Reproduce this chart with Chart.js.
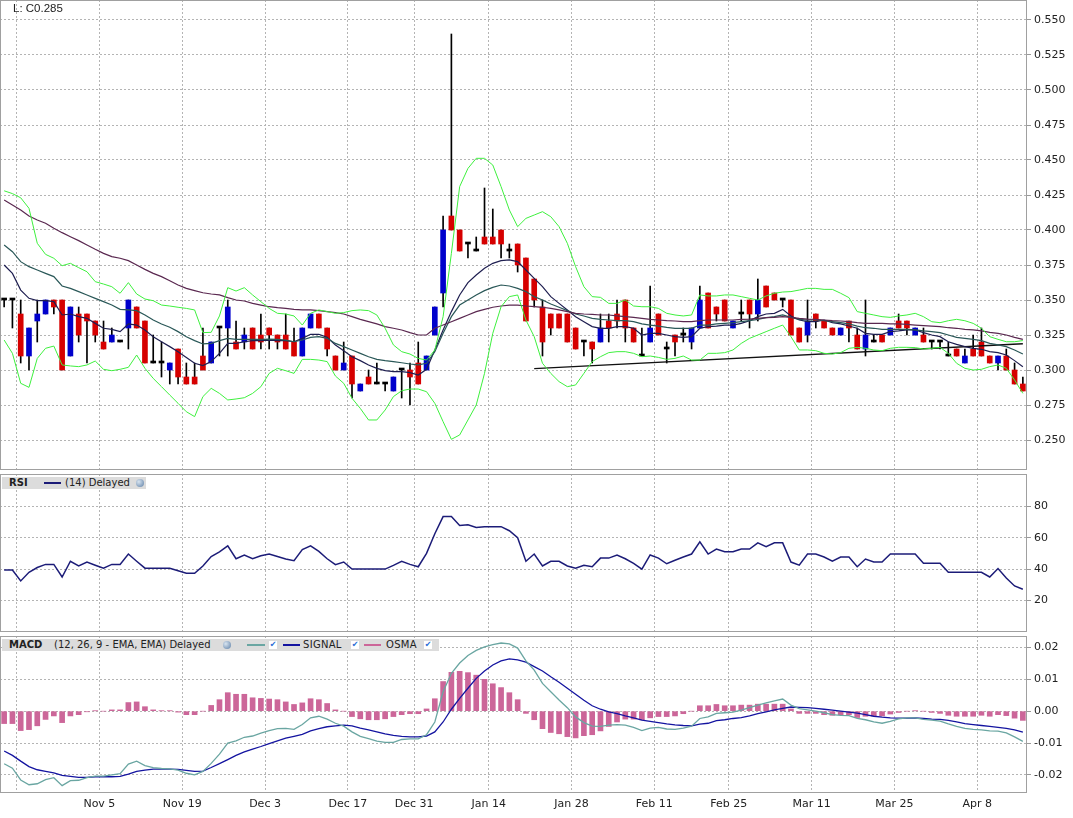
<!DOCTYPE html>
<html>
<head>
<meta charset="utf-8">
<script src="https://cdn.jsdelivr.net/npm/chart.js@4.4.1/dist/chart.umd.min.js"></script>
<style>
  body { margin: 0; background: #fff; }
  #wrap { position: relative; width: 1073px; height: 818px; overflow: hidden; font-family: 'DejaVu Sans', sans-serif; color: #222; }
  canvas { position: absolute; left: 0; }
  #last { position: absolute; left: 13px; top: 2px; font: 11.5px 'Liberation Sans', Arial, sans-serif; color: #222; }
  .legend { position: absolute; left: 2px; height: 12px; background: #dcdcdc; font-size: 10px; line-height: 12px; }
  .legend span { position: absolute; top: 0; white-space: nowrap; }
  .legend .ln { top: 5px; height: 2px; }
  .legend .ico { top: 2px; width: 8px; height: 8px; border-radius: 50%; background: radial-gradient(circle at 35% 35%, #d8e4f0, #5d7fa6); }
  .legend .chk { top: 2px; width: 8px; height: 8px; background: #fff; color: #2a6bd6; font-size: 8px; line-height: 8px; text-align: center; }
</style>
</head>
<body>
<div id="wrap">
  <canvas id="priceChart" width="1073" height="470" style="top:0"></canvas>
  <canvas id="rsiChart" width="1073" height="158" style="top:474px"></canvas>
  <canvas id="macdChart" width="1073" height="182" style="top:636px"></canvas>
  <div id="last">L: C0.285</div>
  <div class="legend" style="top:477px;width:144px">
    <span style="left:7px;font-weight:bold">RSI</span>
    <span class="ln" style="left:42px;width:17px;background:#1c1c78"></span>
    <span style="left:63px">(14) Delayed</span>
    <span class="ico" style="left:134px"></span>
  </div>
  <div class="legend" style="top:639px;width:437px">
    <span style="left:7px;font-weight:bold">MACD</span>
    <span style="left:52px">(12, 26, 9 - EMA, EMA) Delayed</span>
    <span class="ico" style="left:221px"></span>
    <span class="ln" style="left:245px;width:18px;background:#6aa6a2"></span>
    <span class="chk" style="left:267px">✔</span>
    <span class="ln" style="left:281px;width:17px;background:#1414a0"></span>
    <span style="left:301px;letter-spacing:0.3px">SIGNAL</span>
    <span class="chk" style="left:349px">✔</span>
    <span class="ln" style="left:362px;width:17px;background:#cc6699"></span>
    <span style="left:384px;letter-spacing:0.3px">OSMA</span>
    <span class="chk" style="left:422px">✔</span>
  </div>
</div>
<script>
// ---- data ----
const categories = Array.from({ length: 124 }, (_, i) => String(i));

const tickIdx  = [2, 12, 22, 32, 42, 50, 59, 69, 79, 88, 98, 108, 118];
const tickText = ['', 'Nov 5', 'Nov 19', 'Dec 3', 'Dec 17', 'Dec 31', 'Jan 14', 'Jan 28', 'Feb 11', 'Feb 25', 'Mar 11', 'Mar 25', 'Apr 8'];

const priceTicks = [0.250, 0.275, 0.300, 0.325, 0.350, 0.375, 0.400, 0.425, 0.450, 0.475, 0.500, 0.525, 0.550];
const rsiTicks = [20, 40, 60, 80];
const macdTicks = [-0.02, -0.01, 0, 0.01, 0.02];

const open = [
  0.350, 0.350, 0.340, 0.310, 0.335, 0.340, 0.350, 0.350, 0.310, 0.340, 0.340, 0.335, 0.320, 0.320, 0.320, 0.330,
  0.345, 0.335, 0.305, 0.305, 0.300, 0.315, 0.295, 0.295, 0.310, 0.305, 0.330, 0.330, 0.320, 0.320, 0.330, 0.325,
  0.330, 0.325, 0.325, 0.320, 0.310, 0.330, 0.340, 0.330, 0.310, 0.300, 0.310, 0.285, 0.295, 0.290, 0.290, 0.285,
  0.300, 0.300, 0.305, 0.300, 0.325, 0.355, 0.410, 0.400, 0.390, 0.385, 0.395, 0.395, 0.400, 0.385, 0.390, 0.380,
  0.365, 0.345, 0.340, 0.340, 0.340, 0.330, 0.320, 0.320, 0.320, 0.335, 0.340, 0.350, 0.330, 0.310, 0.320, 0.340,
  0.315, 0.325, 0.325, 0.320, 0.330, 0.355, 0.345, 0.350, 0.330, 0.340, 0.350, 0.340, 0.360, 0.355, 0.350, 0.350,
  0.330, 0.325, 0.340, 0.335, 0.330, 0.325, 0.335, 0.325, 0.315, 0.320, 0.325, 0.325, 0.335, 0.335, 0.325, 0.325,
  0.320, 0.320, 0.310, 0.315, 0.305, 0.315, 0.320, 0.310, 0.305, 0.310, 0.300, 0.290
];
const high = [
  0.350, 0.350, 0.350, 0.330, 0.350, 0.350, 0.350, 0.350, 0.345, 0.345, 0.340, 0.335, 0.335, 0.330, 0.320, 0.350,
  0.345, 0.335, 0.325, 0.320, 0.305, 0.315, 0.305, 0.305, 0.330, 0.320, 0.330, 0.350, 0.335, 0.330, 0.330, 0.340,
  0.330, 0.325, 0.340, 0.330, 0.330, 0.340, 0.340, 0.330, 0.310, 0.320, 0.310, 0.290, 0.300, 0.305, 0.290, 0.295,
  0.300, 0.305, 0.320, 0.310, 0.345, 0.410, 0.540, 0.400, 0.390, 0.395, 0.430, 0.415, 0.400, 0.390, 0.390, 0.380,
  0.365, 0.350, 0.340, 0.340, 0.340, 0.330, 0.320, 0.320, 0.340, 0.340, 0.350, 0.350, 0.330, 0.330, 0.360, 0.340,
  0.320, 0.325, 0.330, 0.330, 0.360, 0.355, 0.345, 0.350, 0.335, 0.350, 0.350, 0.365, 0.360, 0.355, 0.350, 0.350,
  0.330, 0.350, 0.340, 0.335, 0.330, 0.330, 0.335, 0.330, 0.350, 0.325, 0.325, 0.330, 0.340, 0.335, 0.330, 0.330,
  0.320, 0.320, 0.320, 0.315, 0.315, 0.325, 0.330, 0.310, 0.310, 0.315, 0.305, 0.295
];
const low = [
  0.345, 0.330, 0.305, 0.300, 0.320, 0.340, 0.340, 0.300, 0.310, 0.320, 0.305, 0.320, 0.315, 0.320, 0.320, 0.315,
  0.330, 0.305, 0.305, 0.295, 0.290, 0.290, 0.290, 0.290, 0.300, 0.305, 0.310, 0.310, 0.315, 0.315, 0.315, 0.315,
  0.315, 0.315, 0.315, 0.310, 0.310, 0.330, 0.330, 0.310, 0.300, 0.300, 0.280, 0.285, 0.290, 0.290, 0.285, 0.285,
  0.280, 0.275, 0.290, 0.300, 0.325, 0.345, 0.400, 0.385, 0.380, 0.385, 0.390, 0.390, 0.380, 0.380, 0.370, 0.335,
  0.345, 0.310, 0.325, 0.330, 0.320, 0.315, 0.310, 0.305, 0.320, 0.320, 0.330, 0.320, 0.320, 0.310, 0.320, 0.325,
  0.305, 0.310, 0.320, 0.315, 0.330, 0.330, 0.335, 0.335, 0.330, 0.335, 0.330, 0.335, 0.345, 0.350, 0.345, 0.325,
  0.320, 0.320, 0.330, 0.330, 0.325, 0.325, 0.320, 0.315, 0.310, 0.320, 0.320, 0.325, 0.330, 0.325, 0.325, 0.320,
  0.315, 0.315, 0.310, 0.310, 0.305, 0.310, 0.310, 0.305, 0.300, 0.300, 0.290, 0.285
];
const close = [
  0.350, 0.350, 0.310, 0.330, 0.340, 0.350, 0.345, 0.300, 0.345, 0.325, 0.335, 0.325, 0.315, 0.325, 0.320, 0.350,
  0.330, 0.305, 0.305, 0.305, 0.305, 0.295, 0.290, 0.290, 0.300, 0.320, 0.330, 0.345, 0.315, 0.325, 0.315, 0.320,
  0.325, 0.320, 0.315, 0.310, 0.330, 0.340, 0.330, 0.315, 0.300, 0.305, 0.290, 0.290, 0.290, 0.290, 0.290, 0.295,
  0.300, 0.295, 0.290, 0.310, 0.345, 0.400, 0.400, 0.385, 0.390, 0.385, 0.390, 0.390, 0.390, 0.385, 0.375, 0.335,
  0.350, 0.320, 0.330, 0.330, 0.320, 0.315, 0.320, 0.315, 0.330, 0.330, 0.335, 0.330, 0.320, 0.310, 0.330, 0.325,
  0.315, 0.320, 0.325, 0.330, 0.350, 0.330, 0.340, 0.335, 0.335, 0.340, 0.340, 0.350, 0.345, 0.350, 0.350, 0.325,
  0.320, 0.335, 0.335, 0.330, 0.325, 0.330, 0.330, 0.315, 0.325, 0.320, 0.320, 0.330, 0.330, 0.330, 0.330, 0.320,
  0.320, 0.320, 0.310, 0.310, 0.310, 0.310, 0.310, 0.305, 0.310, 0.300, 0.290, 0.285
];

const bbUpper = [
  0.4280, 0.4260, 0.4230, 0.4155, 0.3905, 0.3826, 0.3798, 0.3745, 0.3762, 0.3731, 0.3702, 0.3631, 0.3614, 0.3595, 0.3548, 0.3624,
  0.3543, 0.3507, 0.3495, 0.3464, 0.3457, 0.3448, 0.3440, 0.3429, 0.3267, 0.3269, 0.3386, 0.3588, 0.3564, 0.3588, 0.3536, 0.3488,
  0.3440, 0.3405, 0.3400, 0.3386, 0.3321, 0.3405, 0.3429, 0.3417, 0.3405, 0.3410, 0.3424, 0.3429, 0.3424, 0.3393, 0.3298, 0.3179,
  0.3131, 0.3114, 0.3083, 0.3071, 0.3143, 0.3381, 0.3833, 0.4310, 0.4440, 0.4512, 0.4512, 0.4464, 0.4310, 0.4143, 0.4024, 0.4083,
  0.4107, 0.4131, 0.4095, 0.4024, 0.3905, 0.3738, 0.3595, 0.3524, 0.3519, 0.3476, 0.3476, 0.3500, 0.3457, 0.3452, 0.3452, 0.3440,
  0.3405, 0.3393, 0.3386, 0.3393, 0.3536, 0.3529, 0.3529, 0.3536, 0.3536, 0.3524, 0.3512, 0.3500, 0.3529, 0.3548, 0.3557, 0.3560,
  0.3571, 0.3583, 0.3583, 0.3576, 0.3576, 0.3548, 0.3517, 0.3417, 0.3405, 0.3393, 0.3381, 0.3376, 0.3386, 0.3393, 0.3405, 0.3381,
  0.3345, 0.3338, 0.3352, 0.3362, 0.3352, 0.3333, 0.3298, 0.3238, 0.3219, 0.3202, 0.3202, 0.3210
];
const bbLower = [
  0.3214, 0.3119, 0.2905, 0.2876, 0.3083, 0.3155, 0.3171, 0.3036, 0.3029, 0.3024, 0.3036, 0.3064, 0.3005, 0.2995, 0.3005, 0.3019,
  0.3107, 0.3012, 0.2940, 0.2881, 0.2821, 0.2762, 0.2702, 0.2667, 0.2810, 0.2869, 0.2833, 0.2786, 0.2793, 0.2802, 0.2833, 0.2881,
  0.2976, 0.3012, 0.2995, 0.2976, 0.3076, 0.3076, 0.3071, 0.3060, 0.2957, 0.2905, 0.2798, 0.2726, 0.2643, 0.2643, 0.2714, 0.2810,
  0.2852, 0.2864, 0.2864, 0.2845, 0.2762, 0.2631, 0.2505, 0.2536, 0.2643, 0.2750, 0.2976, 0.3262, 0.3452, 0.3524, 0.3536, 0.3357,
  0.3238, 0.3048, 0.2976, 0.2917, 0.2881, 0.2893, 0.2976, 0.3060, 0.3095, 0.3124, 0.3131, 0.3131, 0.3119, 0.3095, 0.3100, 0.3090,
  0.3076, 0.3083, 0.3100, 0.3071, 0.3071, 0.3119, 0.3119, 0.3124, 0.3143, 0.3190, 0.3226, 0.3250, 0.3274, 0.3298, 0.3321, 0.3238,
  0.3143, 0.3143, 0.3138, 0.3119, 0.3114, 0.3124, 0.3155, 0.3162, 0.3155, 0.3143, 0.3138, 0.3155, 0.3162, 0.3162, 0.3160, 0.3150,
  0.3155, 0.3162, 0.3119, 0.3048, 0.3012, 0.3000, 0.3005, 0.3024, 0.3036, 0.3012, 0.2929, 0.2833
];
const maFast = [
  0.3750, 0.3690, 0.3571, 0.3512, 0.3495, 0.3495, 0.3488, 0.3393, 0.3400, 0.3381, 0.3369, 0.3333, 0.3298, 0.3290, 0.3274, 0.3329,
  0.3321, 0.3286, 0.3238, 0.3202, 0.3167, 0.3131, 0.3090, 0.3048, 0.3031, 0.3060, 0.3119, 0.3190, 0.3190, 0.3202, 0.3210, 0.3210,
  0.3214, 0.3210, 0.3210, 0.3202, 0.3226, 0.3255, 0.3255, 0.3233, 0.3179, 0.3138, 0.3095, 0.3067, 0.3036, 0.3012, 0.2995, 0.2988,
  0.2988, 0.2981, 0.2964, 0.3005, 0.3143, 0.3286, 0.3417, 0.3536, 0.3624, 0.3679, 0.3726, 0.3762, 0.3781, 0.3786, 0.3774, 0.3714,
  0.3655, 0.3595, 0.3524, 0.3476, 0.3429, 0.3381, 0.3345, 0.3310, 0.3298, 0.3298, 0.3310, 0.3310, 0.3298, 0.3250, 0.3262, 0.3262,
  0.3250, 0.3238, 0.3233, 0.3238, 0.3298, 0.3310, 0.3314, 0.3321, 0.3321, 0.3333, 0.3352, 0.3381, 0.3400, 0.3405, 0.3433, 0.3386,
  0.3357, 0.3345, 0.3345, 0.3357, 0.3338, 0.3329, 0.3314, 0.3298, 0.3262, 0.3255, 0.3255, 0.3274, 0.3279, 0.3286, 0.3286, 0.3267,
  0.3250, 0.3238, 0.3202, 0.3183, 0.3167, 0.3155, 0.3148, 0.3131, 0.3124, 0.3107, 0.3067, 0.3024
];
const maMid = [
  0.3893, 0.3845, 0.3774, 0.3738, 0.3714, 0.3690, 0.3667, 0.3600, 0.3583, 0.3560, 0.3536, 0.3512, 0.3488, 0.3464, 0.3433, 0.3429,
  0.3424, 0.3393, 0.3357, 0.3329, 0.3305, 0.3274, 0.3238, 0.3210, 0.3186, 0.3190, 0.3210, 0.3226, 0.3219, 0.3219, 0.3219, 0.3219,
  0.3221, 0.3219, 0.3214, 0.3202, 0.3214, 0.3233, 0.3238, 0.3226, 0.3190, 0.3167, 0.3143, 0.3119, 0.3095, 0.3076, 0.3067, 0.3060,
  0.3052, 0.3043, 0.3036, 0.3048, 0.3131, 0.3262, 0.3381, 0.3464, 0.3500, 0.3536, 0.3567, 0.3590, 0.3607, 0.3600, 0.3583, 0.3560,
  0.3524, 0.3500, 0.3471, 0.3448, 0.3424, 0.3400, 0.3386, 0.3369, 0.3362, 0.3357, 0.3352, 0.3352, 0.3345, 0.3329, 0.3321, 0.3314,
  0.3305, 0.3298, 0.3298, 0.3298, 0.3321, 0.3321, 0.3329, 0.3333, 0.3338, 0.3345, 0.3352, 0.3362, 0.3374, 0.3381, 0.3393, 0.3376,
  0.3362, 0.3357, 0.3357, 0.3352, 0.3345, 0.3338, 0.3329, 0.3314, 0.3302, 0.3298, 0.3290, 0.3290, 0.3290, 0.3290, 0.3286, 0.3279,
  0.3274, 0.3267, 0.3250, 0.3233, 0.3226, 0.3219, 0.3210, 0.3190, 0.3179, 0.3167, 0.3143, 0.3114
];
const maSlow = [
  0.4214, 0.4179, 0.4143, 0.4100, 0.4071, 0.4048, 0.4012, 0.3981, 0.3952, 0.3924, 0.3893, 0.3862, 0.3833, 0.3810, 0.3798, 0.3781,
  0.3750, 0.3719, 0.3690, 0.3667, 0.3638, 0.3607, 0.3583, 0.3567, 0.3552, 0.3543, 0.3536, 0.3517, 0.3500, 0.3493, 0.3476, 0.3464,
  0.3452, 0.3445, 0.3440, 0.3433, 0.3429, 0.3429, 0.3424, 0.3417, 0.3410, 0.3400, 0.3381, 0.3362, 0.3345, 0.3329, 0.3310, 0.3298,
  0.3286, 0.3267, 0.3250, 0.3250, 0.3298, 0.3321, 0.3345, 0.3369, 0.3393, 0.3417, 0.3433, 0.3448, 0.3457, 0.3464, 0.3464, 0.3457,
  0.3452, 0.3448, 0.3440, 0.3429, 0.3417, 0.3405, 0.3400, 0.3398, 0.3393, 0.3393, 0.3386, 0.3381, 0.3376, 0.3369, 0.3362, 0.3357,
  0.3352, 0.3350, 0.3345, 0.3345, 0.3352, 0.3357, 0.3357, 0.3357, 0.3357, 0.3362, 0.3364, 0.3369, 0.3374, 0.3376, 0.3381, 0.3376,
  0.3369, 0.3364, 0.3362, 0.3357, 0.3352, 0.3350, 0.3345, 0.3338, 0.3333, 0.3333, 0.3333, 0.3329, 0.3329, 0.3326, 0.3321, 0.3317,
  0.3314, 0.3310, 0.3302, 0.3298, 0.3290, 0.3286, 0.3279, 0.3269, 0.3262, 0.3250, 0.3233, 0.3219
];
const trendIdx = [64, 123];
const trendVal = [0.3010, 0.3188];

const rsi = [
  39.4, 39.4, 32.5, 38, 41, 43, 43, 35, 45, 42, 44.5, 42.5, 40.6, 43, 43, 49.6,
  45, 40.6, 40.6, 40.6, 40.6, 39, 37.4, 37.4, 42, 48, 51, 54.8, 46.6, 49, 46.6, 48.5,
  49.6, 48, 46.4, 45.3, 52.4, 54.8, 51.3, 46.6, 42.8, 44.5, 40, 40, 40, 40, 40, 42.4,
  45, 43, 41.5, 50, 62.5, 73.4, 73.4, 67.8, 68.2, 66.5, 67, 67, 67, 64.4, 60, 45,
  49.6, 42, 45, 45, 42, 40.6, 42.5, 41.5, 47, 47, 49, 46.6, 43.6, 40, 49, 47,
  43.4, 45.6, 47.7, 49.6, 57.3, 49.6, 52.8, 51, 51, 52.8, 52.8, 56.7, 54.3, 56.7, 56.7, 44.5,
  42.5, 49.6, 49.6, 47.7, 45, 47.7, 47.7, 41.5, 46.4, 44.5, 44.5, 49.6, 49.6, 49.6, 49.6, 43.8,
  43.8, 43.8, 38, 38, 38, 38, 38, 35, 40.4, 34.4, 29.3, 27.2
];

const macd = [
  -0.0165, -0.0179, -0.0216, -0.0231, -0.0228, -0.0215, -0.0209, -0.0234, -0.0218, -0.0217, -0.0209, -0.0204, -0.0204, -0.0200, -0.0196, -0.0166,
  -0.0157, -0.0171, -0.0177, -0.0180, -0.0181, -0.0185, -0.0195, -0.0200, -0.0189, -0.0164, -0.0135, -0.0100, -0.0093, -0.0082, -0.0078, -0.0069,
  -0.0061, -0.0055, -0.0054, -0.0057, -0.0042, -0.0021, -0.0016, -0.0025, -0.0038, -0.0047, -0.0065, -0.0079, -0.0086, -0.0094, -0.0098, -0.0098,
  -0.0089, -0.0087, -0.0087, -0.0074, -0.0034, 0.0061, 0.0119, 0.0151, 0.0175, 0.0191, 0.0202, 0.0209, 0.0214, 0.0211, 0.0198, 0.0158,
  0.0129, 0.0087, 0.0061, 0.0035, 0.0011, -0.0018, -0.0036, -0.0047, -0.0048, -0.0044, -0.0042, -0.0044, -0.0051, -0.0061, -0.0053, -0.0051,
  -0.0056, -0.0057, -0.0053, -0.0047, -0.0023, -0.0018, -0.0007, -0.0005, -0.0003, 0.0003, 0.0011, 0.0019, 0.0026, 0.0032, 0.0038, 0.0019,
  0.0008, 0.0004, 0.0000, -0.0005, -0.0011, -0.0013, -0.0014, -0.0023, -0.0027, -0.0034, -0.0038, -0.0032, -0.0024, -0.0021, -0.0021, -0.0026,
  -0.0028, -0.0031, -0.0040, -0.0048, -0.0054, -0.0057, -0.0059, -0.0062, -0.0063, -0.0068, -0.0081, -0.0095
];
const signal = [
  -0.0125, -0.0139, -0.0157, -0.0174, -0.0184, -0.0189, -0.0194, -0.0202, -0.0205, -0.0208, -0.0208, -0.0206, -0.0206, -0.0206, -0.0205, -0.0198,
  -0.0189, -0.0185, -0.0182, -0.0182, -0.0182, -0.0183, -0.0186, -0.0189, -0.0188, -0.0177, -0.0165, -0.0152, -0.0139, -0.0128, -0.0119, -0.0111,
  -0.0102, -0.0093, -0.0085, -0.0079, -0.0073, -0.0062, -0.0055, -0.0049, -0.0046, -0.0044, -0.0046, -0.0053, -0.0059, -0.0065, -0.0071, -0.0076,
  -0.0079, -0.0081, -0.0081, -0.0078, -0.0065, -0.0034, 0.0006, 0.0040, 0.0072, 0.0103, 0.0126, 0.0145, 0.0158, 0.0164, 0.0161, 0.0154,
  0.0140, 0.0126, 0.0108, 0.0091, 0.0072, 0.0053, 0.0034, 0.0017, 0.0006, -0.0002, -0.0008, -0.0015, -0.0021, -0.0028, -0.0032, -0.0036,
  -0.0040, -0.0043, -0.0045, -0.0046, -0.0041, -0.0038, -0.0030, -0.0027, -0.0023, -0.0020, -0.0015, -0.0008, -0.0002, 0.0004, 0.0009, 0.0013,
  0.0012, 0.0011, 0.0009, 0.0006, 0.0003, 0.0000, -0.0003, -0.0006, -0.0011, -0.0016, -0.0019, -0.0021, -0.0022, -0.0022, -0.0021, -0.0023,
  -0.0025, -0.0026, -0.0029, -0.0034, -0.0039, -0.0042, -0.0045, -0.0048, -0.0051, -0.0054, -0.0059, -0.0066
];
const osma = [
  -0.0039, -0.0039, -0.0061, -0.0058, -0.0046, -0.0026, -0.0015, -0.0036, -0.0015, -0.0011, -0.0002, 0.0001, 0.0000, 0.0004, 0.0004, 0.0027,
  0.0029, 0.0014, 0.0004, 0.0001, 0.0001, -0.0003, -0.0011, -0.0011, 0.0000, 0.0018, 0.0036, 0.0058, 0.0053, 0.0053, 0.0042, 0.0040,
  0.0038, 0.0036, 0.0029, 0.0021, 0.0026, 0.0039, 0.0036, 0.0024, 0.0004, 0.0000, -0.0017, -0.0024, -0.0027, -0.0027, -0.0024, -0.0017,
  -0.0011, -0.0008, -0.0008, 0.0007, 0.0039, 0.0093, 0.0122, 0.0125, 0.0121, 0.0113, 0.0100, 0.0086, 0.0074, 0.0058, 0.0036, -0.0007,
  -0.0027, -0.0055, -0.0067, -0.0071, -0.0080, -0.0084, -0.0077, -0.0074, -0.0062, -0.0048, -0.0034, -0.0025, -0.0025, -0.0027, -0.0021, -0.0017,
  -0.0017, -0.0015, -0.0008, 0.0000, 0.0017, 0.0017, 0.0021, 0.0017, 0.0017, 0.0019, 0.0019, 0.0022, 0.0022, 0.0022, 0.0022, 0.0007,
  -0.0007, -0.0007, -0.0007, -0.0011, -0.0013, -0.0011, -0.0011, -0.0020, -0.0016, -0.0015, -0.0015, -0.0009, -0.0004, 0.0000, 0.0001, 0.0000,
  -0.0004, -0.0007, -0.0013, -0.0016, -0.0016, -0.0016, -0.0013, -0.0016, -0.0011, -0.0014, -0.0022, -0.0029
];

// ---- styling ----
const GRID = '#b4b4b4';
const FRAME = '#a0a0a0';
const AXIS_W = 46;
const PLOT_W = 1073 - AXIS_W;

Chart.defaults.font.family = "'DejaVu Sans', sans-serif";
Chart.defaults.font.size = 11;
Chart.defaults.color = '#222';
Chart.defaults.animation = false;

const framePlugin = {
  id: 'frame',
  afterDraw(chart) {
    const a = chart.chartArea, c = chart.ctx;
    c.save();
    c.strokeStyle = FRAME;
    c.lineWidth = 1;
    c.strokeRect(a.left + 0.5, a.top + 0.5, a.right - a.left - 1, a.bottom - a.top - 1);
    c.restore();
  }
};

function xAxis(showLabels) {
  return {
    type: 'category',
    offset: true,
    grid: {
      offset: true,
      drawTicks: false,
      color: c => tickIdx.includes(c.index) ? GRID : 'transparent'
    },
    border: { display: false, dash: [2, 2] },
    ticks: {
      display: showLabels,
      autoSkip: false,
      maxRotation: 0,
      minRotation: 0,
      padding: 5,
      labelOffset: -(PLOT_W / categories.length) / 2,
      callback: (v, i) => {
        const k = tickIdx.indexOf(i);
        return k >= 0 ? tickText[k] : '';
      }
    },
    afterFit: s => {
      s.height = showLabels ? 25 : 0;
      s.paddingLeft = 0;
      s.paddingRight = 0;
    }
  };
}

function yAxis(min, max, ticks, fmt) {
  return {
    position: 'right',
    min: min,
    max: max,
    grid: { color: GRID, drawTicks: true, tickLength: 4, tickColor: '#999' },
    border: { display: false, dash: [2, 2] },
    ticks: { padding: 3, callback: fmt },
    afterBuildTicks: s => { s.ticks = ticks.map(v => ({ value: v })); },
    afterFit: s => {
      s.width = AXIS_W;
      s.paddingTop = 0;
      s.paddingBottom = 0;
    }
  };
}

function line(label, data, color, width) {
  return {
    type: 'line', label: label, data: data,
    borderColor: color, borderWidth: width || 1,
    pointRadius: 0, tension: 0, fill: false, order: 0
  };
}

const baseOptions = {
  responsive: false,
  maintainAspectRatio: false,
  layout: { padding: 0 },
  plugins: { legend: { display: false }, tooltip: { enabled: false } }
};

// ---- price panel ----
const bodyColor = i => close[i] > open[i] ? '#0000cc' : (close[i] < open[i] ? '#d60000' : '#000000');

new Chart(document.getElementById('priceChart'), {
  type: 'bar',
  data: {
    labels: categories,
    datasets: [
      line('BB upper', bbUpper, '#3ef03e'),
      line('BB lower', bbLower, '#3ef03e'),
      line('MA slow', maSlow, '#5a2850', 1.2),
      line('MA mid', maMid, '#2a5858', 1.2),
      line('MA fast', maFast, '#1e1e50', 1.2),
      Object.assign(line('Trend', categories.map((_, i) => {
        const k = trendIdx.indexOf(i);
        return k >= 0 ? trendVal[k] : null;
      }), '#111111', 1.4), { spanGaps: true }),
      {
        label: 'Body',
        data: categories.map((_, i) => [open[i], close[i]]),
        backgroundColor: categories.map((_, i) => bodyColor(i)),
        barThickness: 5,
        minBarLength: 2,
        grouped: false,
        order: 1
      },
      {
        label: 'Wick',
        data: categories.map((_, i) => [low[i], high[i]]),
        backgroundColor: '#000000',
        barThickness: 1,
        grouped: false,
        order: 2
      }
    ]
  },
  options: Object.assign({}, baseOptions, {
    scales: {
      x: xAxis(false),
      y: yAxis(0.55 - 450 / 1400, 0.55 + 20 / 1400, priceTicks, v => v.toFixed(3))
    }
  }),
  plugins: [framePlugin]
});

// ---- RSI panel ----
new Chart(document.getElementById('rsiChart'), {
  type: 'line',
  data: {
    labels: categories,
    datasets: [line('RSI', rsi, '#1c1c78', 1.5)]
  },
  options: Object.assign({}, baseOptions, {
    scales: {
      x: xAxis(false),
      y: yAxis(0, 100.5, rsiTicks, v => String(v))
    }
  }),
  plugins: [framePlugin]
});

// ---- MACD panel ----
new Chart(document.getElementById('macdChart'), {
  type: 'bar',
  data: {
    labels: categories,
    datasets: [
      line('MACD', macd, '#6aa6a2', 1.3),
      line('SIGNAL', signal, '#1414a0', 1.3),
      {
        label: 'OSMA',
        data: osma,
        backgroundColor: '#cc6699',
        barThickness: 5,
        grouped: false,
        order: 1
      }
    ]
  },
  options: Object.assign({}, baseOptions, {
    scales: {
      x: xAxis(true),
      y: yAxis(-0.0257, 0.0236, macdTicks, v => v.toFixed(2))
    }
  }),
  plugins: [framePlugin]
});
</script>
</body>
</html>
